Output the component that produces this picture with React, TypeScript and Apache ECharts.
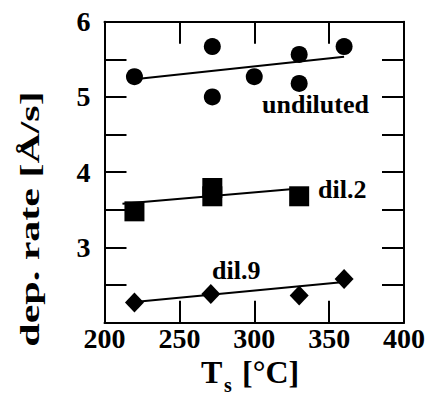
import React, { useEffect, useRef } from "react";
import * as echarts from "echarts";

const xRange = [200, 400];
const yRange = [2, 6];
const undiluted = [[220, 5.27], [272, 5.67], [272, 5.0], [300, 5.27], [330, 5.565], [330, 5.18], [360, 5.67]];
const dil2 = [[220, 3.48], [272, 3.79], [272, 3.68], [330, 3.68]];
const dil9 = [[220, 2.27], [271, 2.38], [330, 2.36], [360, 2.58]];
const fitUndiluted = [[220, 5.235], [360, 5.535]];
const fitDil2 = [[212, 3.58], [330, 3.785]];
const fitDil9 = [[220, 2.275], [360, 2.54]];
const seriesLabels = ["undiluted", "dil.2", "dil.9"];
const yTitle = "dep. rate [Å/s]";

const FONT = "Liberation Serif";

export default function App() {
  const ref = useRef<HTMLDivElement>(null);
  useEffect(() => {
    if (!ref.current) return;
    const chart = echarts.init(ref.current, null, { renderer: "svg" });
    const axisLineStyle = { color: "#000", width: 2 };
    const tick = { show: true, inside: true, length: 22, lineStyle: { color: "#000", width: 2 } };
    const labelStyle = { color: "#000", fontFamily: FONT, fontWeight: "bold" as const, fontSize: 28 };
    const txt = (size: number) => ({ fill: "#000", fontFamily: FONT, fontWeight: "bold", fontSize: size });
    const fitLine = (data: number[][]) => ({
      type: "line",
      data,
      showSymbol: false,
      symbol: "none",
      lineStyle: { color: "#000", width: 2 },
      z: 1,
      silent: true,
    });
    const scat = (data: number[][], symbol: string, size: any) => ({
      type: "scatter",
      data,
      symbol,
      symbolSize: size,
      itemStyle: { color: "#000", opacity: 1 },
      z: 3,
    });
    chart.setOption({
      animation: false,
      backgroundColor: "#fff",
      grid: { left: 104.5, right: 22.3, top: 21.7, bottom: 74.3 },
      xAxis: [
        {
          type: "value",
          position: "bottom",
          min: xRange[0],
          max: xRange[1],
          interval: 50,
          axisLine: { show: true, lineStyle: axisLineStyle },
          axisTick: tick,
          splitLine: { show: false },
          axisLabel: { ...labelStyle, margin: 4, lineHeight: 24 },
        },
        {
          type: "value",
          position: "top",
          min: xRange[0],
          max: xRange[1],
          interval: 50,
          axisLine: { show: true, lineStyle: axisLineStyle },
          axisTick: tick,
          splitLine: { show: false },
          axisLabel: { show: false },
        },
      ],
      yAxis: [
        {
          type: "value",
          position: "left",
          min: yRange[0],
          max: yRange[1],
          interval: 0.5,
          axisLine: { show: true, lineStyle: axisLineStyle },
          axisTick: tick,
          splitLine: { show: false },
          axisLabel: {
            ...labelStyle,
            margin: 14,
            showMaxLabel: true,
            formatter: (v: number) => (Number.isInteger(v) && v > 2 ? String(v) : ""),
          },
        },
        {
          type: "value",
          position: "right",
          min: yRange[0],
          max: yRange[1],
          interval: 0.5,
          axisLine: { show: true, lineStyle: axisLineStyle },
          axisTick: tick,
          splitLine: { show: false },
          axisLabel: { show: false },
        },
      ],
      series: [
        fitLine(fitUndiluted),
        fitLine(fitDil2),
        fitLine(fitDil9),
        scat(undiluted, "circle", 17),
        scat(dil2, "rect", 20),
        scat(dil9, "diamond", [19, 20]),
      ],
      graphic: [
        {
          type: "text",
          x: 262,
          y: 104,
          style: { text: seriesLabels[0], ...txt(26), verticalAlign: "middle" },
        },
        {
          type: "text",
          x: 318,
          y: 189,
          style: { text: seriesLabels[1], ...txt(26), verticalAlign: "middle" },
        },
        {
          type: "text",
          x: 212,
          y: 270,
          style: { text: seriesLabels[2], ...txt(26), verticalAlign: "middle" },
        },
        {
          type: "text",
          x: 201,
          y: 372,
          style: { text: "T", ...txt(32), lineHeight: 30, verticalAlign: "middle" },
        },
        {
          type: "text",
          x: 224,
          y: 385,
          style: { text: "s", ...txt(20), lineHeight: 14, verticalAlign: "middle" },
        },
        {
          type: "text",
          x: 242,
          y: 372,
          style: { text: "[°C]", ...txt(32), lineHeight: 30, verticalAlign: "middle" },
        },
        {
          type: "text",
          x: 30,
          y: 219,
          rotation: Math.PI / 2,
          scaleX: 1.5,
          style: { text: yTitle, ...txt(28), align: "center", verticalAlign: "middle" },
        },
      ],
    });
    return () => chart.dispose();
  }, []);
  return (
    <div
      ref={ref}
      style={{ position: "fixed", left: 0, top: 0, width: 428, height: 397, background: "#fff" }}
    />
  );
}
